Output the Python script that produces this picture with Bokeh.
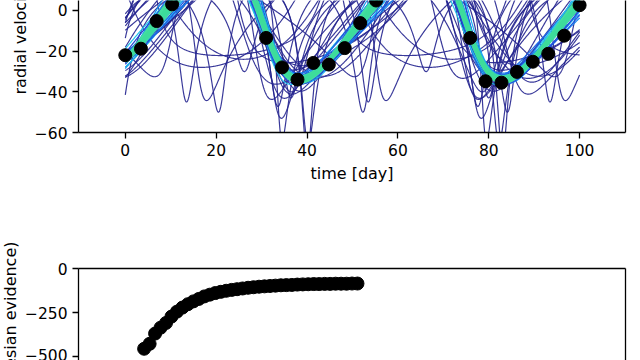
import numpy as np
from bokeh.plotting import figure
from bokeh.layouts import column
from bokeh.models import Range1d, LinearAxis, FixedTicker, Title, ColumnDataSource
from bokeh.embed import file_html
from bokeh.resources import INLINE

# ---- observed radial velocities (visible epochs) ----
time_day = [0.0, 3.45, 6.9, 10.3, 31.0, 34.5, 37.9, 41.4, 44.8, 48.3,
            51.7, 55.2, 75.9, 79.3, 82.8, 86.2, 89.7, 93.1, 96.6, 100.0]
rv_obs = [-22.0, -18.8, -5.2, 3.0, -13.5, -28.0, -34.0, -25.8, -26.6, -18.5,
          -6.2, 4.9, -13.5, -34.8, -35.5, -30.2, -25.2, -21.3, -12.4, 2.6]

# ---- orbit samples: (period, K, ecc, omega, t_peri, offset) ----
orbits_low = [
    (40.0, 35, 0.60, 3.00, 13.3, 10.8),
    (31.8, 33, 0.55, 3.30, 20.7, 0.9),
    (46.0, 22, 0.20, 0.00, 3.0, -6.4),
    (50.0, 28, 0.30, 0.30, -4.0, -8.0),
    (43.0, 45, 0.70, 3.10, 40.0, 6.0),
    (42.0, 40, 0.65, 2.90, -2.0, 0.0),
    (40.0, 22, 0.55, 3.20, 66.3, 4.0),
    (47.0, 30, 0.10, 1.00, 27.0, -5.0),
    (43.0, 35, 0.30, 2.20, 31.5, -2.0),
    (46.5, 25, 0.40, 1.20, 28.0, -8.0),
    (42.5, 38, 0.20, 1.80, 32.0, 0.0),
    (48.0, 28, 0.35, 0.80, 26.0, -6.0),
    (44.0, 40, 0.50, 2.50, 33.0, 3.0),
    (41.5, 27, 0.15, 1.40, 30.5, -7.0),
    (45.5, 36, 0.45, 2.00, 29.0, -1.0),
    (49.0, 33, 0.25, 1.60, 25.0, -3.0),
    (43.5, 30, 0.60, 2.80, 36.0, 4.0),
    (38.0, 30, 0.30, 1.50, 30.0, -4.0),
    (52.0, 32, 0.40, 1.90, 32.0, -5.0),
    (45.0, 45, 0.70, 2.60, 34.0, 8.0),
    (47.5, 24, 0.05, 1.00, 28.0, -9.0),
    (42.0, 32, 0.35, 3.60, 38.0, 2.0),
    (46.0, 38, 0.55, 0.50, 22.0, -6.0),
    (44.0, 26, 0.45, 4.40, 10.0, -3.0),
    (50.5, 29, 0.20, 2.40, 35.0, -2.0),
    (39.5, 35, 0.50, 2.20, 16.0, 1.0),
    (41.0, 28, 0.65, 0.20, 5.0, -12.0),
    (44.0, 34, 0.60, 3.00, 77.4, 7.0),
]

orbits_mid = [
    (44.4, 28, 0.25, 1.40, 29.5, -5.0),
    (45.0, 32, 0.15, 1.75, 30.5, -3.0),
    (44.9, 27, 0.30, 1.30, 29.2, -6.0),
    (44.5, 33, 0.12, 1.60, 30.3, -2.5),
    (45.2, 30, 0.28, 1.85, 30.8, -4.0),
    (44.3, 29, 0.18, 1.45, 29.6, -3.0),
    (44.8, 26, 0.35, 1.55, 29.9, -7.0),
    (45.1, 34, 0.10, 1.70, 30.0, -1.5),
    (44.6, 31, 0.24, 1.35, 29.4, -5.5),
    (44.7, 28, 0.20, 1.90, 31.0, -4.5),
    (44.2, 30, 0.30, 1.62, 30.1, -3.5),
    (45.3, 27, 0.16, 1.48, 29.0, -6.5),
    (44.9, 32, 0.26, 1.52, 30.6, -2.0),
    (44.5, 29, 0.14, 1.80, 30.4, -5.0),
    (44.8, 33, 0.32, 1.25, 29.3, -4.0),
    (44.4, 26, 0.22, 1.68, 30.7, -6.0),
    (45.0, 29, 0.20, 1.57, 29.7, -7.5),
    (44.6, 31, 0.20, 1.57, 30.3, -1.0),
]
mid_colors = ["#2a3fd0", "#1d62e6", "#1a86ef", "#16a7f4", "#1fc4ee", "#2050dc",
              "#1877eb", "#159cf2", "#1ab8f2", "#2346d4", "#1b6fe9", "#1793f0",
              "#16aef4", "#25c9ea", "#1c5ae0", "#1a80ee", "#2a4ad8", "#19a0f2"]

orbits_best = [
    (44.6, 29, 0.22, 1.50, 29.8, -4.5),
    (44.8, 31, 0.18, 1.65, 30.2, -3.5),
    (44.7, 30, 0.20, 1.57, 30.0, -4.0),
]
best_colors = ["#3fd9a6", "#44dfa0", "#3ddc9b"]

# ---- nested sampling evidence trace ----
iteration = list(range(12, 52))
log_z = [-454, -426, -368, -335, -308, -272, -244, -221, -202, -186,
         -172, -158, -148, -139, -132, -126, -121, -117, -113, -109,
         -106, -103, -101, -99, -97, -95, -94, -93, -91, -90,
         -89, -88, -88, -87, -87, -86, -86, -86, -85, -85]

FONT = "DejaVu Sans"
TICK_SIZE = "15.5px"
LABEL_SIZE = "16px"
t_grid = np.linspace(0.0, 100.0, 1001)


def keplerian(t, period, k, ecc, omega, t_peri, offset):
    m = 2.0 * np.pi * (t - t_peri) / period
    e_an = m + ecc * np.sin(m)
    for _ in range(60):
        e_an = e_an - (e_an - ecc * np.sin(e_an) - m) / (1.0 - ecc * np.cos(e_an))
    nu = 2.0 * np.arctan2(np.sqrt(1.0 + ecc) * np.sin(e_an / 2.0),
                          np.sqrt(1.0 - ecc) * np.cos(e_an / 2.0))
    return offset + k * (np.cos(nu + omega) + ecc * np.cos(omega))


def curves(orbits):
    return [list(t_grid) for _ in orbits], [list(keplerian(t_grid, *o)) for o in orbits]


def style_axis(ax):
    ax.axis_line_color = "black"
    ax.axis_line_width = 1.3
    ax.major_tick_line_color = "black"
    ax.major_tick_line_width = 1.3
    ax.major_tick_out = 6
    ax.major_tick_in = 0
    ax.minor_tick_line_color = None
    ax.major_label_text_font = FONT
    ax.major_label_text_font_size = TICK_SIZE
    ax.major_label_text_color = "black"
    ax.major_label_standoff = 5


def spine(loc, p):
    ax = LinearAxis(ticker=FixedTicker(ticks=[]), major_tick_line_color=None,
                    minor_tick_line_color=None, axis_line_color="black",
                    axis_line_width=1.3, major_label_text_font_size="0px")
    p.add_layout(ax, loc)


def minus(ticks):
    return {t: (("\u2212" + str(abs(t))) if t < 0 else str(t)) for t in ticks}


def side_title(text, align, offset):
    return Title(text=text, align=align, offset=offset, standoff=0,
                 vertical_align="top",
                 text_font=FONT, text_font_size=LABEL_SIZE, text_font_style="normal",
                 text_color="black")


# ---- top panel: radial velocity ----
top = figure(width=640, height=200, x_range=Range1d(-10.3, 110.1), y_range=Range1d(-60, 4.9),
             output_backend="svg", toolbar_location=None, title=None,
             min_border_left=77, min_border_right=15, min_border_top=0, min_border_bottom=68,
             outline_line_color=None, background_fill_color="white", border_fill_color="white")
top.grid.visible = False
style_axis(top.xaxis[0])
style_axis(top.yaxis[0])
top.xaxis.ticker = FixedTicker(ticks=[0, 20, 40, 60, 80, 100])
top.yaxis.ticker = FixedTicker(ticks=[-60, -40, -20, 0])
top.yaxis.major_label_overrides = minus([-60, -40, -20, 0])
top.xaxis.axis_label = "time [day]"
top.xaxis.axis_label_text_font = FONT
top.xaxis.axis_label_text_font_size = LABEL_SIZE
top.xaxis.axis_label_text_font_style = "normal"
top.xaxis.axis_label_text_color = "black"
top.xaxis.axis_label_standoff = 5
spine("right", top)
top.add_layout(side_title("radial velocity [m/s]", "left", 38), "left")

xs, ys = curves(orbits_low)
top.multi_line(xs, ys, line_color="#24248f", line_width=1.2, line_alpha=0.9)

xs, ys = curves(orbits_mid)
mid_src = ColumnDataSource(dict(xs=xs, ys=ys, c=mid_colors))
top.multi_line("xs", "ys", line_color="c", line_width=1.2, source=mid_src)

xs, ys = curves(orbits_best)
best_src = ColumnDataSource(dict(xs=xs, ys=ys, c=best_colors))
top.multi_line("xs", "ys", line_color="c", line_width=5.0, source=best_src)

top.scatter(time_day, rv_obs, size=13, color="black")

# ---- bottom panel: evidence ----
bot = figure(width=640, height=160, x_range=Range1d(0, 100), y_range=Range1d(-520.4, 0),
             x_axis_location=None, output_backend="svg", toolbar_location=None, title=None,
             min_border_left=77, min_border_right=15, min_border_top=68, min_border_bottom=0,
             outline_line_color=None, background_fill_color="white", border_fill_color="white")
bot.grid.visible = False
style_axis(bot.yaxis[0])
bot.yaxis.ticker = FixedTicker(ticks=[-500, -250, 0])
bot.yaxis.major_label_overrides = minus([-500, -250, 0])
spine("right", bot)
spine("above", bot)
bot.add_layout(side_title("log(Bayesian evidence)", "right", -27), "left")
bot.scatter(iteration, log_z, size=13, color="black")

layout = column(top, bot, spacing=0)
open("out.html", "w").write(file_html(layout, INLINE))
